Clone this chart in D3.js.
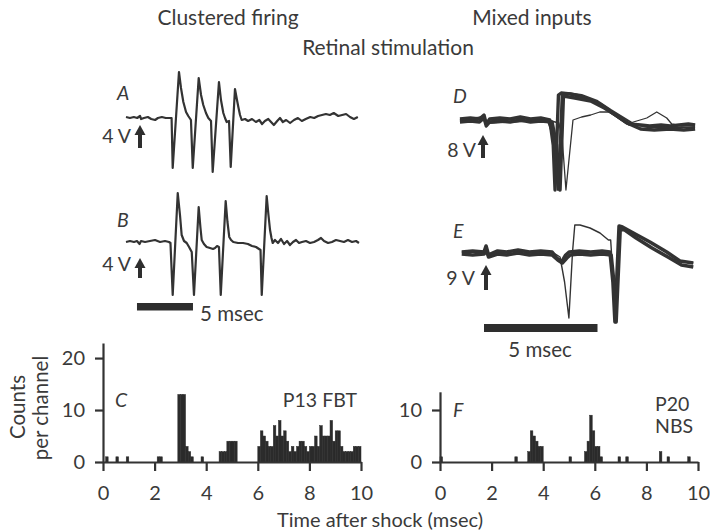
<!DOCTYPE html>
<html>
<head>
<meta charset="utf-8">
<title>Retinal stimulation</title>
<script src="https://d3js.org/d3.v7.min.js"></script>
<style>
  body { margin: 0; background: #fff; }
  svg text { font-family: Lato, "Open Sans", sans-serif; fill: #3a3a3a; }
  .axis path, .axis line { stroke: #333; stroke-width: 2.2px; }
  .axis text { font-size: 20px; fill: #3a3a3a; font-family: Lato, "Open Sans", sans-serif; }
  .trace { fill: none; stroke: #333; stroke-linejoin: round; }
</style>
</head>
<body>
<script>
// ---- histogram C (P13 FBT), 0.1 msec channels: channel start (msec) and counts
var binsC = [0.1, 0.5, 0.9, 2.1, 2.2, 2.9, 3.0, 3.1, 3.2, 3.3, 3.4, 3.8,
             4.5, 4.6, 4.7, 4.8, 4.9, 5.0, 5.1,
             6.0, 6.1, 6.2, 6.3, 6.4, 6.5, 6.6, 6.7, 6.8, 6.9,
             7.0, 7.1, 7.2, 7.3, 7.4, 7.5, 7.6, 7.7, 7.8, 7.9,
             8.0, 8.1, 8.2, 8.3, 8.4, 8.5, 8.6, 8.7, 8.8, 8.9,
             9.0, 9.1, 9.2, 9.3, 9.4, 9.5, 9.6, 9.7, 9.8, 9.9];
var countsC = [1, 1, 1, 1, 1, 13, 13, 13, 3, 2, 1, 1,
               2, 2, 2, 4, 4, 4, 4,
               3, 6, 5, 4, 3, 3, 7, 5, 8, 5,
               6, 4, 2, 3, 2, 3, 4, 4, 3, 2,
               3, 3, 5, 3, 7, 5, 5, 5, 8, 4,
               6, 6, 3, 2, 2, 2, 2, 3, 3, 3];

// ---- histogram F (P20 NBS)
var binsF = [0.0, 2.9, 3.4, 3.5, 3.6, 3.7, 3.8, 3.9, 5.0, 5.6, 5.7, 5.8, 5.9,
             6.0, 6.1, 6.2, 6.9, 7.2, 8.5, 8.8, 9.6];
var countsF = [1, 1, 2, 6, 5, 4, 3, 3, 1, 2, 4, 9, 6,
               3, 3, 1, 1, 1, 2, 1, 1];

var xTicks = [0, 2, 4, 6, 8, 10];
var yTicksC = [0, 10, 20];
var yTicksF = [0, 10];

// ---- traces: time after shock (msec) and potential (arbitrary units)
var tA = [-1.25, -0.9, -0.55, -0.25, 0, 0.1, 0.35, 0.7, 1.0, 1.35, 1.6, 1.95, 2.3, 2.7, 2.82,
          2.92, 3.48, 3.66, 3.87, 4.11, 4.31, 4.55, 4.71, 5.24, 5.45, 5.65, 5.89, 6.1, 6.34,
          6.49, 7.05, 7.23, 7.44, 7.59, 7.74, 7.95, 8.1, 8.48, 8.66, 8.78, 8.93, 9.08, 9.38,
          9.65, 10.0, 10.35, 10.65, 10.9, 11.15, 11.45, 11.7, 11.95, 12.25, 12.5, 12.75, 13.05,
          13.4, 13.75, 14.1, 14.45, 14.8, 15.2, 15.55, 15.9, 16.25, 16.6, 16.95, 17.3, 17.7,
          18.05, 18.4, 18.75, 19.1, 19.45];
var vA = [0.1, 0, 0.1, 0, 0.2, -0.1, 0, 0.1, -0.1, -0.2, 0, 0.1, 0, 0, 0,
          -5.0, 4.6, 3.0, 1.6, 0.6, 0.2, -0.2, -5.0, 4.0, 2.3, 1.3, 0.5, 0, -0.3,
          -5.4, 3.6, 1.8, 0.5, 0, -0.4, -0.3, -4.9, 2.9, 1.8, 1.1, 0.3, -0.2, -0.1,
          -0.3, -0.1, -0.4, -0.2, -0.6, -0.3, -0.1, -0.4, -0.7, -0.3, 0, -0.4, -0.2,
          -0.5, -0.2, 0, -0.3, -0.1, 0.1, 0, 0.2, 0.3, 0.4, 0.3, 0.5, 0.2,
          0.3, 0.4, 0.1, -0.1, 0.1];

var tB = [-1.25, -0.89, -0.54, -0.27, -0.04, 0.09, 0.45, 0.89, 1.34, 1.79, 2.23, 2.59, 2.72,
          2.92, 3.37, 3.57, 3.72, 3.93, 4.17, 4.38, 4.62,
          4.82, 5.24, 5.4, 5.51, 5.71, 5.95, 6.25, 6.52, 6.7, 6.88, 7.05,
          7.21, 7.65, 7.81, 7.97, 8.13, 8.33, 8.75, 9.2, 9.64, 10.0, 10.36, 10.63, 10.76,
          10.87, 11.31, 11.47, 11.61, 11.74, 11.85, 12.05, 12.32, 12.59, 12.86, 13.13, 13.39,
          13.66, 13.93, 14.2, 14.46, 14.82, 15.18, 15.54, 15.89, 16.16, 16.43, 16.79, 17.14,
          17.5, 17.86, 18.21, 18.57, 18.93, 19.29, 19.55];
var vB = [0, 0.1, 0, 0.1, -0.2, 0.1, 0, 0.1, 0.2, 0, 0.1, 0, -0.1,
          -5.3, 4.9, 2.7, 0.7, 0.1, -0.1, -0.5, -1.0,
          -5.3, 3.5, 1.4, 0.2, -0.2, -0.5, -0.6, -0.7, -0.6, -0.4, -0.5,
          -5.3, 4.1, 2.0, 0.5, 0.2, 0, -0.1, -0.1, -0.2, -0.4, -0.5, -0.7, -0.8,
          -5.3, 4.6, 2.7, 1.2, 0.4, -0.1, 0.2, -0.1, 0.3, -0.2, 0.1, -0.3,
          0, 0.2, -0.1, 0, 0.1, -0.1, 0, 0.2, 0.4, 0.1, -0.1, 0,
          0.2, 0.1, 0, 0.2, 0, 0.1, -0.1];

// D: superimposed sweeps (two heavy, one medium, one faint)
var tD1 = [-1.06, -0.6, -0.2, 0, 0.1, 0.25, 0.7, 1.15, 1.6, 2.05, 2.5, 2.9, 3.05, 3.13, 3.28,
           3.4, 3.8, 4.2, 4.7, 5.1, 5.55, 6.0, 6.4, 6.9, 7.3, 7.8, 8.2, 8.6, 9.0, 9.3];
var vD1 = [0.1, 0.2, 0.1, 0.5, -0.4, 0.1, 0.2, 0.1, 0.3, 0.1, 0.2, 0, -2.5, -7.0, 2.5,
           2.7, 2.6, 2.4, 2.0, 1.6, 0.9, 0.2, -0.4, -0.5, -0.6, -0.5, -0.6, -0.5, -0.4, -0.5];
var tD2 = [-1.06, -0.6, -0.2, 0, 0.1, 0.25, 0.7, 1.15, 1.6, 2.05, 2.5, 3.0, 3.2, 3.35, 3.5,
           4.0, 4.7, 5.3, 5.8, 6.3, 6.9, 7.5, 8.2, 8.8, 9.3];
var vD2 = [-0.2, -0.1, -0.2, 0.2, -0.6, -0.2, -0.1, -0.2, 0, -0.2, -0.1, -0.2, -2.5, -7.0, 2.4,
           2.2, 1.9, 1.2, 0.5, -0.3, -0.9, -1.0, -0.9, -1.0, -0.9];
var tD3 = [-1.06, 0, 0.1, 2.8, 3.1, 3.26, 3.42, 3.7, 4.3, 5.0, 5.6, 6.1, 6.6, 7.2, 8.0, 9.3];
var vD3 = [0, 0.3, -0.3, 0, -2.0, -7.0, 2.6, 2.7, 2.5, 1.9, 1.0, 0.3, -0.4, -0.7, -0.8, -0.7];
var tD4 = [-1.06, 0, 0.1, 2.8, 3.3, 3.45, 3.61, 3.92, 4.3, 4.7, 5.1, 5.5, 5.9, 6.3, 6.58,
           7.17, 7.61, 8.05, 8.27, 8.7, 9.3];
var vD4 = [0, 0.3, -0.3, 0, -0.3, -2.0, -7.0, 0, 0.3, 0.5, 0.8, 0.8, 0.2, -0.4, -0.2,
           0.2, 0.8, 0.2, -0.4, -0.6, -0.5];

// E
var tE1 = [-0.98, -0.5, 0, 0.09, 0.2, 0.6, 1.0, 1.5, 2.0, 2.5, 3.0, 3.2, 3.42, 3.6, 3.75,
           4.2, 4.7, 5.2, 5.55, 5.68, 5.77, 5.95, 6.1, 6.58, 7.31, 8.05, 8.63, 9.22];
var vE1 = [0, 0.1, 0, 0.6, -0.3, 0.1, 0, 0.2, 0, 0.1, 0, -0.6, -1.0, -0.3, 0,
           0.1, 0, 0.1, 0, -3.0, -7.0, 2.6, 2.5, 1.9, 1.0, 0, -0.9, -1.1];
var tE2 = [-0.98, -0.5, 0, 0.09, 0.2, 0.6, 1.0, 1.5, 2.0, 2.5, 3.0, 3.25, 3.45, 3.65, 3.8,
           4.2, 4.7, 5.2, 5.6, 5.72, 5.82, 6.0, 6.2, 6.7, 7.4, 8.1, 8.7, 9.22];
var vE2 = [-0.2, -0.3, -0.2, 0.3, -0.5, -0.2, -0.3, -0.1, -0.3, -0.2, -0.3, -0.8, -1.1, -0.6, -0.3,
           -0.2, -0.3, -0.2, -0.3, -3.0, -7.0, 2.3, 2.2, 1.4, 0.4, -0.5, -1.3, -1.5];
var tE3 = [-0.98, 0, 0.09, 0.2, 3.0, 3.35, 3.55, 3.74, 3.9, 4.0, 4.23, 4.67, 5.11, 5.48, 5.58,
           5.7, 5.77, 5.95, 6.1, 6.58, 7.31, 8.05, 8.63, 9.22];
var vE3 = [0, 0, 0.5, -0.3, 0, -0.5, -3.0, -6.6, 0, 2.7, 2.7, 2.4, 1.9, 1.2, 1.2,
           -3.0, -7.0, 2.6, 2.5, 1.9, 1.0, 0, -0.9, -1.1];

var W = 710, H = 532;
var svg = d3.select("body").append("svg")
    .attr("width", W).attr("height", H);

// ---------- histograms ----------
var xC = d3.scaleLinear().domain([0, 10]).range([103, 361]);
var xF = d3.scaleLinear().domain([0, 10]).range([440, 698]);
var yC = d3.scaleLinear().domain([0, 22.9]).range([462, 343]);
var yF = d3.scaleLinear().domain([0, 13.5]).range([462, 391.8]);
var binW = 0.1;

function histo(bins, counts, x, y) {
    // bars touch each other, so a thin stroke of the fill colour closes the seams
    svg.append("g").selectAll("rect")
        .data(bins)
        .enter().append("rect")
        .attr("x", function (d) { return x(d); })
        .attr("width", function (d) { return x(d + binW) - x(d); })
        .attr("y", function (d, i) { return y(counts[i]); })
        .attr("height", function (d, i) { return y(0) - y(counts[i]); })
        .attr("fill", "#2b2b2b")
        .attr("stroke", "#2b2b2b")
        .attr("stroke-width", 0.5);

    svg.append("g").attr("class", "axis")
        .attr("transform", "translate(0," + y(0) + ")")
        .call(d3.axisBottom(x).tickValues(xTicks).tickSize(9).tickSizeOuter(0).tickPadding(15));
}
histo(binsC, countsC, xC, yC);
histo(binsF, countsF, xF, yF);

svg.append("g").attr("class", "axis")
    .attr("transform", "translate(" + xC(0) + ",0)")
    .call(d3.axisLeft(yC).tickValues(yTicksC).tickSize(8).tickSizeOuter(0).tickPadding(10));
svg.append("g").attr("class", "axis")
    .attr("transform", "translate(" + xF(0) + ",0)")
    .call(d3.axisLeft(yF).tickValues(yTicksF).tickSize(8).tickSizeOuter(0).tickPadding(10));

// ---------- traces ----------
var xAB = d3.scaleLinear().domain([0, 5]).range([140, 196]);
var xDE = d3.scaleLinear().domain([0, 5]).range([484, 597.5]);
var yA = d3.scaleLinear().domain([0, 1]).range([118, 108]);
var yB = d3.scaleLinear().domain([0, 1]).range([242, 232]);
var yD = d3.scaleLinear().domain([0, 1]).range([120, 110]);
var yE = d3.scaleLinear().domain([0, 1]).range([252, 242]);

function trace(t, v, x, y, w) {
    var line = d3.line()
        .x(function (d) { return x(d); })
        .y(function (d, i) { return y(v[i]); });
    svg.append("path").attr("class", "trace")
        .attr("d", line(t))
        .attr("stroke-width", w);
}
trace(tA, vA, xAB, yA, 2.2);
trace(tB, vB, xAB, yB, 2.2);
trace(tD1, vD1, xDE, yD, 3.4);
trace(tD2, vD2, xDE, yD, 3.4);
trace(tD3, vD3, xDE, yD, 2);
trace(tD4, vD4, xDE, yD, 1.3);
trace(tE1, vE1, xDE, yE, 3.6);
trace(tE2, vE2, xDE, yE, 3.6);
trace(tE3, vE3, xDE, yE, 1.4);

// stimulus arrows
function arrow(x, top, bottom) {
    var g = svg.append("g").attr("fill", "#2e2e2e");
    g.append("rect").attr("x", x - 2).attr("y", top + 9).attr("width", 4).attr("height", bottom - top - 9);
    g.append("path").attr("d", "M" + (x - 5.5) + "," + (top + 10) + "L" + x + "," + top + "L" + (x + 5.5) + "," + (top + 10) + "Z");
}
arrow(xAB(0), 125, 148);
arrow(xAB(0), 258, 278);
arrow(xDE(0) - 1, 135, 158);
arrow(xDE(0) + 2, 265, 290);

// 5 msec bars
svg.append("rect").attr("x", xAB(-0.27)).attr("width", xAB(5) - xAB(0))
    .attr("y", 303).attr("height", 7.5).attr("fill", "#2e2e2e");
svg.append("rect").attr("x", xDE(0)).attr("width", xDE(5) - xDE(0))
    .attr("y", 324).attr("height", 8).attr("fill", "#2e2e2e");

// ---------- text ----------
function label(x, y, s, opts) {
    opts = opts || {};
    return svg.append("text").attr("x", x).attr("y", y)
        .attr("font-size", (opts.size || 19.5) + "px")
        .attr("text-anchor", opts.anchor || "start")
        .attr("font-style", opts.italic ? "italic" : "normal")
        .text(s);
}
label(228, 25, "Clustered firing", { anchor: "middle", size: 21 });
label(532, 25, "Mixed inputs", { anchor: "middle", size: 21 });
label(388, 55, "Retinal stimulation", { anchor: "middle", size: 21 });

label(117, 100, "A", { italic: true });
label(117, 227, "B", { italic: true });
label(453, 103, "D", { italic: true });
label(453, 238, "E", { italic: true });
label(115, 407, "C", { italic: true });
label(453, 417, "F", { italic: true });

label(131, 143, "4 V", { anchor: "end" });
label(131, 271, "4 V", { anchor: "end" });
label(476, 157, "8 V", { anchor: "end" });
label(475, 285, "9 V", { anchor: "end" });

label(200, 321, "5 msec", { size: 20.5 });
label(540, 357, "5 msec", { anchor: "middle", size: 20.5 });

label(357, 407, "P13 FBT", { anchor: "end" });
label(655, 411, "P20");
label(655, 433, "NBS");

label(0, 0, "Counts", { anchor: "middle", size: 20.5 })
    .attr("transform", "translate(25,407) rotate(-90)");
label(0, 0, "per channel", { anchor: "middle", size: 20.5 })
    .attr("transform", "translate(48,408) rotate(-90)");
label(380, 527, "Time after shock (msec)", { anchor: "middle", size: 20 });
</script>
</body>
</html>
